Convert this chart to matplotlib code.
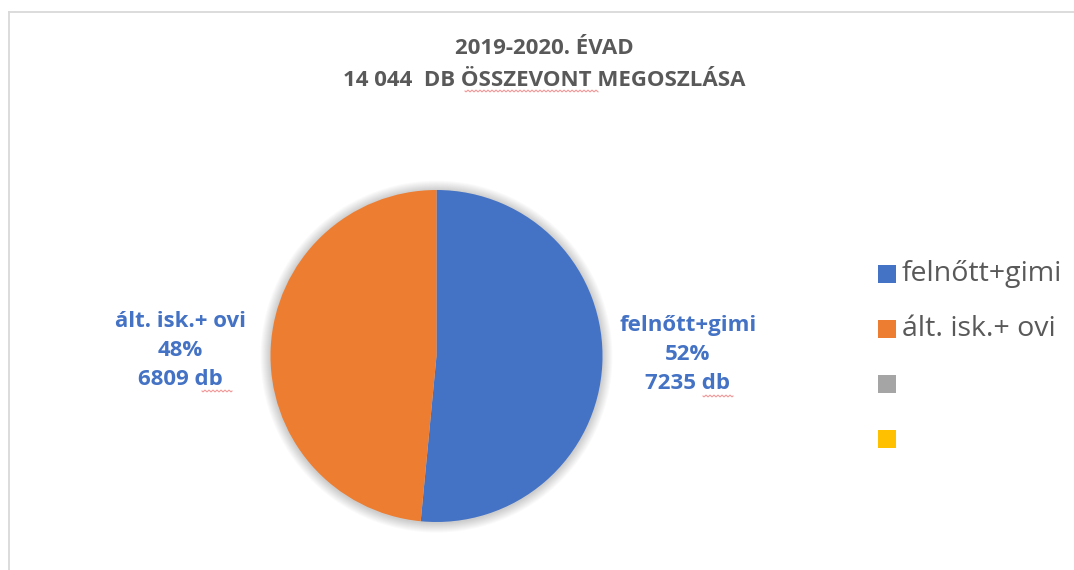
import matplotlib
matplotlib.use("Agg")
import matplotlib.pyplot as plt
from matplotlib.patches import Rectangle, Circle
import numpy as np

# ---- data ----
categories = ["felnőtt+gimi", "ált. isk.+ ovi"]
values = [7235, 6809]
slice_colors = ["#4472C4", "#ED7D31"]
legend_labels = ["felnőtt+gimi", "ált. isk.+ ovi", "", ""]
legend_colors = ["#4472C4", "#ED7D31", "#A5A5A5", "#FFC000"]
title_lines = ["2019-2020. ÉVAD", "14 044  DB ÖSSZEVONT MEGOSZLÁSA"]

W, H = 1074, 570
FONT = ["Open Sans", "DejaVu Sans"]
fig = plt.figure(figsize=(W / 100, H / 100), dpi=100)
fig.patch.set_facecolor("white")

# background overlay axes in pixel coordinates
bg = fig.add_axes([0, 0, 1, 1])
bg.set_xlim(0, W)
bg.set_ylim(H, 0)
bg.axis("off")

# frame
bg.plot([9, W + 5], [11.5, 11.5], color="#D9D9D9", lw=1.3)
bg.plot([9, 9], [11.5, H + 5], color="#D9D9D9", lw=1.3)

# title
bg.text(544, 48, title_lines[0], ha="center", va="center", fontsize=16,
        fontweight="bold", color="#595959", family=FONT)
bg.text(544, 80, title_lines[1], ha="center", va="center", fontsize=16,
        fontweight="bold", color="#595959", family=FONT)

# pie axes
cx, cy, r = 436.5, 356, 166
ax = fig.add_axes([(cx - r) / W, (H - cy - r) / H, 2 * r / W, 2 * r / H])

wedges, _ = ax.pie(values, colors=slice_colors, startangle=90, counterclock=False,
                   radius=1.0, wedgeprops=dict(linewidth=0))
for w in wedges:
    w.set_zorder(2)
ax.set_xlim(-1, 1)
ax.set_ylim(-1, 1)
ax.axis("off")

# soft shadow
for k in range(10):
    rr = 1.0 + 0.006 * (k + 1)
    ax.add_patch(Circle((0, -0.004), rr, color="#000000", alpha=0.018, lw=0,
                        zorder=0, clip_on=False))

total = sum(values)
label_pos = [(1.515, 0.012), (-1.545, 0.036)]
for cat, v, (lx, ly) in zip(categories, values, label_pos):
    pct = round(v / total * 100)
    ax.text(lx, ly, f"{cat}\n{pct}%\n{v} db", ha="center", va="center",
            fontsize=16, fontweight="bold", color="#4472C4", family=FONT,
            linespacing=1.5, clip_on=False)

# legend (drawn manually)
for i, (lab, col) in enumerate(zip(legend_labels, legend_colors)):
    yc = 274 + 55 * i
    bg.add_patch(Rectangle((878, yc - 9), 18, 18, color=col, lw=0))
    if lab:
        bg.text(902, yc, lab, ha="left", va="center", fontsize=20.5,
                color="#595959", family=FONT)

# spell-check squiggles
def squiggle(x0, x1, y):
    xs = np.linspace(x0, x1, int((x1 - x0) * 2))
    ys = y + 0.8 * np.sin((xs - x0) / 2.0 * np.pi)
    bg.plot(xs, ys, color="#F08080", lw=0.8, alpha=0.8)

squiggle(465, 598, 91)
squiggle(202, 232, 391)
squiggle(703, 733, 396)

fig.savefig("out.png", dpi=100, facecolor="white")
